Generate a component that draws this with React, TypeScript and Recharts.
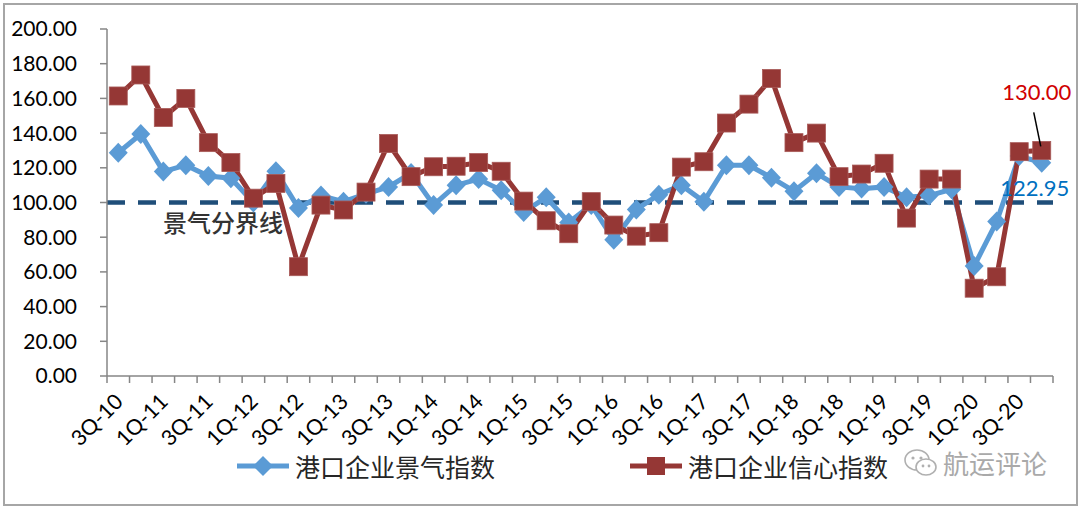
import React from "react";
import {
  ComposedChart,
  Line,
  XAxis,
  YAxis,
  ReferenceLine,
  Legend,
  LabelList,
} from "recharts";

const quarters = [
  "3Q-10", "4Q-10",
  "1Q-11", "2Q-11", "3Q-11", "4Q-11",
  "1Q-12", "2Q-12", "3Q-12", "4Q-12",
  "1Q-13", "2Q-13", "3Q-13", "4Q-13",
  "1Q-14", "2Q-14", "3Q-14", "4Q-14",
  "1Q-15", "2Q-15", "3Q-15", "4Q-15",
  "1Q-16", "2Q-16", "3Q-16", "4Q-16",
  "1Q-17", "2Q-17", "3Q-17", "4Q-17",
  "1Q-18", "2Q-18", "3Q-18", "4Q-18",
  "1Q-19", "2Q-19", "3Q-19", "4Q-19",
  "1Q-20", "2Q-20", "3Q-20", "4Q-20",
];

// 港口企业景气指数
const prosperity = [
  128.7, 139.5, 117.8, 121.5, 115.3, 114, 100, 118, 96.8, 104,
  100.5, 105, 109, 117, 98.6, 110, 113.5, 107, 94.5, 103,
  88.5, 98.6, 78.5, 96, 104.5, 110, 100.5, 121.5, 121.5, 114.3,
  106.5, 116.8, 109, 108, 109, 103, 104, 107.6, 63.4, 89,
  126.8, 122.95,
];

// 港口企业信心指数
const confidence = [
  161.4, 173.5, 149, 160, 134.5, 123, 102.5, 111, 63, 98.5,
  95.7, 106, 134, 114.9, 120.6, 120.9, 123, 118, 100.8, 89.5,
  82, 100.5, 87, 80.6, 82.6, 120.4, 123.5, 145.8, 156.7, 171.5,
  134.5, 140, 114.9, 116.4, 122.6, 91, 113.5, 113.5, 50.6, 57.2,
  129.3, 130,
];

const yTicks = [0, 20, 40, 60, 80, 100, 120, 140, 160, 180, 200];
const threshold = 100;

const data = quarters.map((q, i) => ({
  q,
  blue: prosperity[i],
  red: confidence[i],
}));

const BLUE = "#5B9BD5";
const RED = "#953735";
const DASH = "#1F4E79";
const AXIS = "#868686";
const LAST = quarters.length - 1;

const W = 1080;
const H = 507;
const M = { top: 29, right: 27, bottom: 21, left: 0 };
const Y_W = 107;
const BAND = (W - M.right - Y_W) / quarters.length;

const NUM_FONT = "Lato, 'Open Sans', sans-serif";
const CJK_FONT = "'Noto Sans CJK SC', sans-serif";

const Diamond = (p: any) => {
  const { cx, cy, index } = p;
  if (cx == null || cy == null) return <g key={index} />;
  return (
    <path
      key={index}
      d={`M${cx} ${cy - 10}L${cx + 9.5} ${cy}L${cx} ${cy + 10}L${cx - 9.5} ${cy}Z`}
      fill={BLUE}
    />
  );
};

const Square = (p: any) => {
  const { cx, cy, index } = p;
  if (cx == null || cy == null) return <g key={index} />;
  return (
    <rect
      key={index}
      x={cx - 9}
      y={cy - 9}
      width={18}
      height={18}
      fill={RED}
      stroke="#a85a58"
      strokeWidth={0.8}
    />
  );
};

const XTick = (props: any) => {
  const { x, y, payload, index } = props;
  const left = x - BAND / 2;
  return (
    <g>
      <line x1={left} x2={left} y1={y} y2={y + 7} stroke={AXIS} strokeWidth={1.5} />
      {index === LAST && (
        <line x1={x + BAND / 2} x2={x + BAND / 2} y1={y} y2={y + 7} stroke={AXIS} strokeWidth={1.5} />
      )}
      {index % 2 === 0 && (
        <text
          transform={`translate(${x + 6},${y + 27}) rotate(-45)`}
          textAnchor="end"
          fontFamily={NUM_FONT}
          fontSize={21.5}
          fill="#000"
        >
          {payload.value}
        </text>
      )}
    </g>
  );
};

const RedLabel = (p: any) => {
  const { x, y, index, value } = p;
  if (index !== LAST) return null;
  return (
    <g>
      <line x1={x - 8} y1={y - 38} x2={x - 1} y2={y - 4} stroke="#000" strokeWidth={1.5} />
      <text x={x - 5} y={y - 50} textAnchor="middle" fontFamily={NUM_FONT} fontSize={22} fill="#D00000">
        {Number(value).toFixed(2)}
      </text>
    </g>
  );
};

const BlueLabel = (p: any) => {
  const { x, y, index, value } = p;
  if (index !== LAST) return null;
  return (
    <text x={x - 7} y={y + 33} textAnchor="middle" fontFamily={NUM_FONT} fontSize={22} fill="#0070C0">
      {Number(value).toFixed(2)}
    </text>
  );
};

const ThresholdLabel = (p: any) => {
  const vb = p.viewBox || {};
  return (
    <text
      x={vb.x + 56}
      y={vb.y + 29}
      fontFamily={CJK_FONT}
      fontWeight={500}
      fontSize={24}
      fill="#333"
    >
      景气分界线
    </text>
  );
};

const LegendIcon = ({ color, square }: { color: string; square?: boolean }) => (
  <svg width={52} height={24} style={{ display: "block" }}>
    <line x1={0} y1={12} x2={52} y2={12} stroke={color} strokeWidth={5} />
    {square ? (
      <rect x={17} y={3} width={18} height={18} fill={color} />
    ) : (
      <path d="M26 2L36 12L26 22L16 12Z" fill={color} />
    )}
  </svg>
);

const renderLegend = () => {
  const text: React.CSSProperties = {
    fontFamily: CJK_FONT,
    fontSize: 25,
    color: "#262626",
    marginLeft: 6,
    lineHeight: "40px",
  };
  return (
    <div style={{ position: "relative", height: 40 }}>
      <div style={{ position: "absolute", left: 237, top: 0, display: "flex", alignItems: "center", height: 40 }}>
        <LegendIcon color={BLUE} />
        <span style={text}>港口企业景气指数</span>
      </div>
      <div style={{ position: "absolute", left: 630, top: 0, display: "flex", alignItems: "center", height: 40 }}>
        <LegendIcon color={RED} square />
        <span style={text}>港口企业信心指数</span>
      </div>
    </div>
  );
};

const WeChatMark = () => (
  <div
    style={{
      position: "absolute",
      left: 903,
      top: 444,
      display: "flex",
      alignItems: "center",
      color: "#a9a9a9",
      fontFamily: CJK_FONT,
      fontSize: 26,
    }}
  >
    <svg width={36} height={32}>
      <ellipse cx={14} cy={13} rx={12} ry={10} fill="#fff" stroke="#b0b0b0" strokeWidth={1.6} />
      <circle cx={10} cy={11} r={1.6} fill="#b0b0b0" />
      <circle cx={18} cy={11} r={1.6} fill="#b0b0b0" />
      <ellipse cx={23} cy={20} rx={10} ry={8} fill="#fff" stroke="#b0b0b0" strokeWidth={1.6} />
      <circle cx={20} cy={19} r={1.4} fill="#b0b0b0" />
      <circle cx={26} cy={19} r={1.4} fill="#b0b0b0" />
    </svg>
    <span style={{ marginLeft: 4 }}>航运评论</span>
  </div>
);

export default function App() {
  return (
    <div
      style={{
        position: "absolute",
        left: 0,
        top: 0,
        width: W,
        height: H,
        background: "#fff",
        overflow: "hidden",
      }}
    >
      <div
        style={{
          position: "absolute",
          left: 3,
          top: 3,
          width: 1075,
          height: 503,
          boxSizing: "border-box",
          border: "2px solid #a6a6a6",
        }}
      />
      <ComposedChart width={W} height={H} data={data} margin={M}>
        <XAxis
          dataKey="q"
          scale="band"
          interval={0}
          tickLine={false}
          tickSize={0}
          tickMargin={0}
          axisLine={{ stroke: AXIS, strokeWidth: 1.5 }}
          tick={XTick}
          height={70}
        />
        <YAxis
          domain={[0, 200]}
          ticks={yTicks}
          width={Y_W}
          tickSize={7}
          tickMargin={23}
          axisLine={{ stroke: AXIS, strokeWidth: 1.5 }}
          tickLine={{ stroke: AXIS, strokeWidth: 1.5 }}
          tick={{ fill: "#000", fontSize: 21, fontFamily: NUM_FONT }}
          tickFormatter={(v: number) => v.toFixed(2)}
        />
        <ReferenceLine
          y={threshold}
          stroke={DASH}
          strokeWidth={4.5}
          strokeDasharray="18 13"
          label={ThresholdLabel}
        />
        <Legend verticalAlign="bottom" content={renderLegend} />
        <Line
          dataKey="blue"
          name="港口企业景气指数"
          stroke={BLUE}
          strokeWidth={5}
          dot={Diamond}
          activeDot={false}
          isAnimationActive={false}
        >
          <LabelList dataKey="blue" content={BlueLabel} />
        </Line>
        <Line
          dataKey="red"
          name="港口企业信心指数"
          stroke={RED}
          strokeWidth={5}
          dot={Square}
          activeDot={false}
          isAnimationActive={false}
        >
          <LabelList dataKey="red" content={RedLabel} />
        </Line>
      </ComposedChart>
      <WeChatMark />
    </div>
  );
}
